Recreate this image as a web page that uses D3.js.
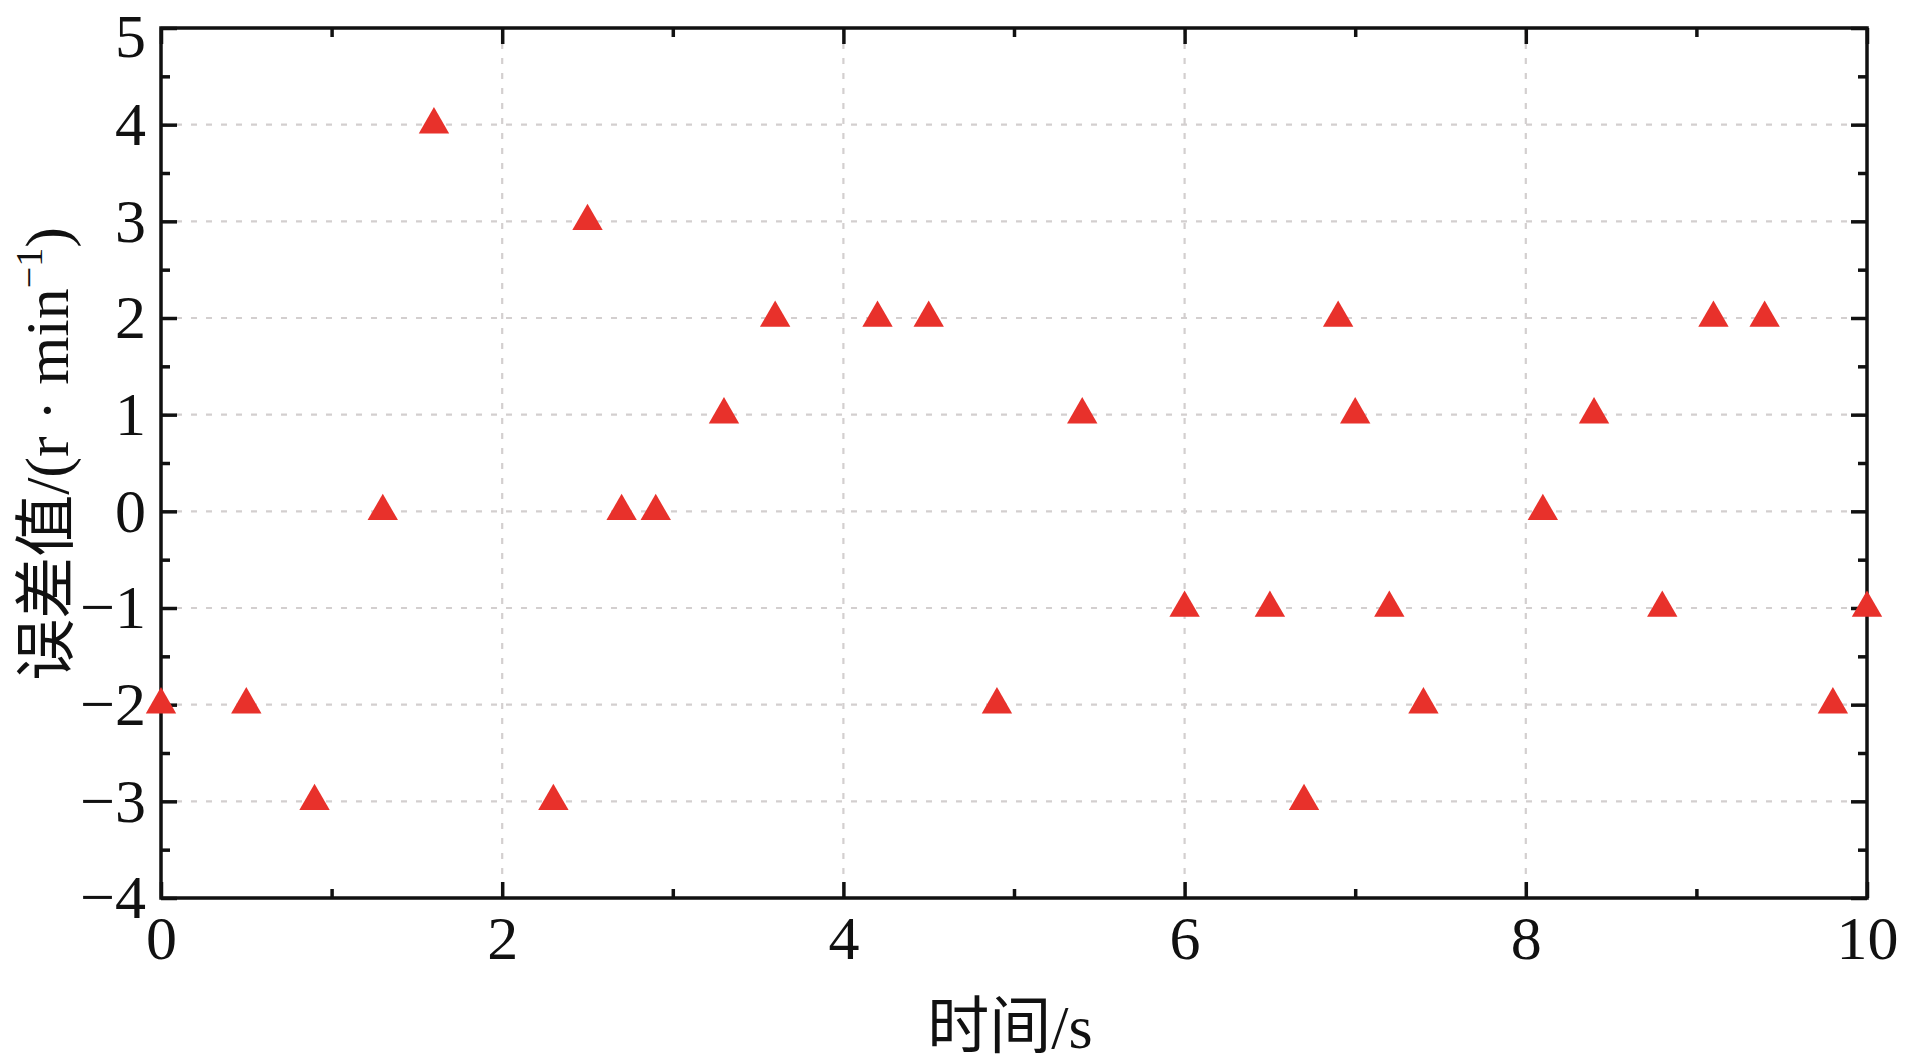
<!DOCTYPE html>
<html>
<head>
<meta charset="utf-8">
<script src="https://cdn.jsdelivr.net/npm/d3@7"></script>
<style>
  html, body { margin: 0; padding: 0; background: #fff; }
  svg { display: block; }
  .tick text { font-family: "Liberation Serif", "Times New Roman", serif; fill: #111; }
</style>
</head>
<body>
<svg id="chart" width="1913" height="1063"></svg>
<script>
// ---- data ----
const timeValues = [0.0, 0.5, 0.9, 1.3, 1.6, 2.3, 2.5, 2.7, 2.9, 3.3, 3.6, 4.2, 4.5, 4.9, 5.4,
                    6.0, 6.5, 6.7, 6.9, 7.0, 7.2, 7.4, 8.1, 8.4, 8.8, 9.1, 9.4, 9.8, 10.0];
const errorValues = [-2, -2, -3, 0, 4, -3, 3, 0, 0, 1, 2, 2, 2, -2, 1,
                     -1, -1, -3, 2, 1, -1, -2, 0, 1, -1, 2, 2, -2, -1];
const xTicks = [0, 2, 4, 6, 8, 10];
const xMinorTicks = [1, 3, 5, 7, 9];
const yTicks = [-4, -3, -2, -1, 0, 1, 2, 3, 4, 5];
const yMinorTicks = [-3.5, -2.5, -1.5, -0.5, 0.5, 1.5, 2.5, 3.5, 4.5];
const xLabel = "时间/s";
const yLabelMain = "误差值/(r · min";
const yLabelSup = "−1";
const yLabelEnd = ")";

// ---- layout ----
const W = 1913, H = 1063;
const margin = { left: 161, right: 46, top: 28, bottom: 165 };
const iw = W - margin.left - margin.right;
const ih = H - margin.top - margin.bottom;

const svg = d3.select("#chart");
const g = svg.append("g").attr("transform", `translate(${margin.left},${margin.top})`);

const x = d3.scaleLinear().domain([0, 10]).range([0, iw]);
const y = d3.scaleLinear().domain([-4, 5]).range([ih, 0]);

const gridColor = "#d3cfcf";
const fmt = d => (d < 0 ? "\u2212" + Math.abs(d) : String(d));

// grid
g.append("g").selectAll("line.h")
  .data(yTicks.filter(d => d > -4 && d < 5))
  .join("line")
  .attr("x1", 0).attr("x2", iw)
  .attr("y1", d => y(d)).attr("y2", d => y(d))
  .attr("stroke", gridColor).attr("stroke-width", 2.2)
  .attr("stroke-dasharray", "6,9");
g.append("g").selectAll("line.v")
  .data(xTicks.filter(d => d > 0 && d < 10))
  .join("line")
  .attr("y1", 0).attr("y2", ih)
  .attr("x1", d => x(d)).attr("x2", d => x(d))
  .attr("stroke", gridColor).attr("stroke-width", 2.2)
  .attr("stroke-dasharray", "6,9");

// axes helper
function styleAxis(sel) {
  sel.select(".domain").remove();
  sel.selectAll(".tick line").attr("stroke", "#111").attr("stroke-width", 3.5);
}
const fontSize = 62;
const majorLen = 16, minorLen = 9;

// bottom
g.append("g").attr("transform", `translate(0,${ih})`)
  .call(d3.axisBottom(x).tickValues(xTicks).tickSize(-majorLen).tickPadding(17).tickFormat(fmt))
  .call(styleAxis)
  .call(s => s.selectAll("text").attr("font-size", fontSize));
g.append("g").attr("transform", `translate(0,${ih})`)
  .call(d3.axisBottom(x).tickValues(xMinorTicks).tickSize(-minorLen).tickFormat(""))
  .call(styleAxis);
// top
g.append("g")
  .call(d3.axisTop(x).tickValues(xTicks).tickSize(-majorLen).tickFormat(""))
  .call(styleAxis);
g.append("g")
  .call(d3.axisTop(x).tickValues(xMinorTicks).tickSize(-minorLen).tickFormat(""))
  .call(styleAxis);
// left
g.append("g")
  .call(d3.axisLeft(y).tickValues(yTicks).tickSize(-majorLen).tickPadding(15).tickFormat(fmt))
  .call(styleAxis)
  .call(s => s.selectAll("text").attr("font-size", fontSize)
    .attr("dy", d => (d === 5 ? "0.46em" : "0.32em")));
g.append("g")
  .call(d3.axisLeft(y).tickValues(yMinorTicks).tickSize(-minorLen).tickFormat(""))
  .call(styleAxis);
// right
g.append("g").attr("transform", `translate(${iw},0)`)
  .call(d3.axisRight(y).tickValues(yTicks).tickSize(-majorLen).tickFormat(""))
  .call(styleAxis);
g.append("g").attr("transform", `translate(${iw},0)`)
  .call(d3.axisRight(y).tickValues(yMinorTicks).tickSize(-minorLen).tickFormat(""))
  .call(styleAxis);

// frame
g.append("rect")
  .attr("x", 0).attr("y", 0).attr("width", iw).attr("height", ih)
  .attr("fill", "none").attr("stroke", "#111").attr("stroke-width", 3.5);

// points
const tri = d3.symbol().type(d3.symbolTriangle).size(400);
g.append("g").selectAll("path")
  .data(timeValues.map((t, i) => ({ t, v: errorValues[i] })))
  .join("path")
  .attr("d", tri)
  .attr("transform", d => `translate(${x(d.t)},${y(d.v)})`)
  .attr("fill", "#e8312b");

// x label
svg.append("text")
  .attr("x", margin.left + iw / 2 - 4)
  .attr("y", 1048)
  .attr("text-anchor", "middle")
  .attr("font-family", "'Liberation Serif', 'Noto Sans CJK SC', serif")
  .attr("font-size", 62)
  .attr("fill", "#111")
  .text(xLabel);

// y label
const yl = svg.append("text")
  .attr("transform", `translate(68,454) rotate(-90)`)
  .attr("text-anchor", "middle")
  .attr("font-family", "'Liberation Serif', 'Noto Sans CJK SC', serif")
  .attr("font-size", 62)
  .attr("fill", "#111");
yl.append("tspan").text(yLabelMain);
yl.append("tspan").attr("font-size", 38).attr("dy", -26).text(yLabelSup);
yl.append("tspan").attr("dy", 26).text(yLabelEnd);
</script>
</body>
</html>
